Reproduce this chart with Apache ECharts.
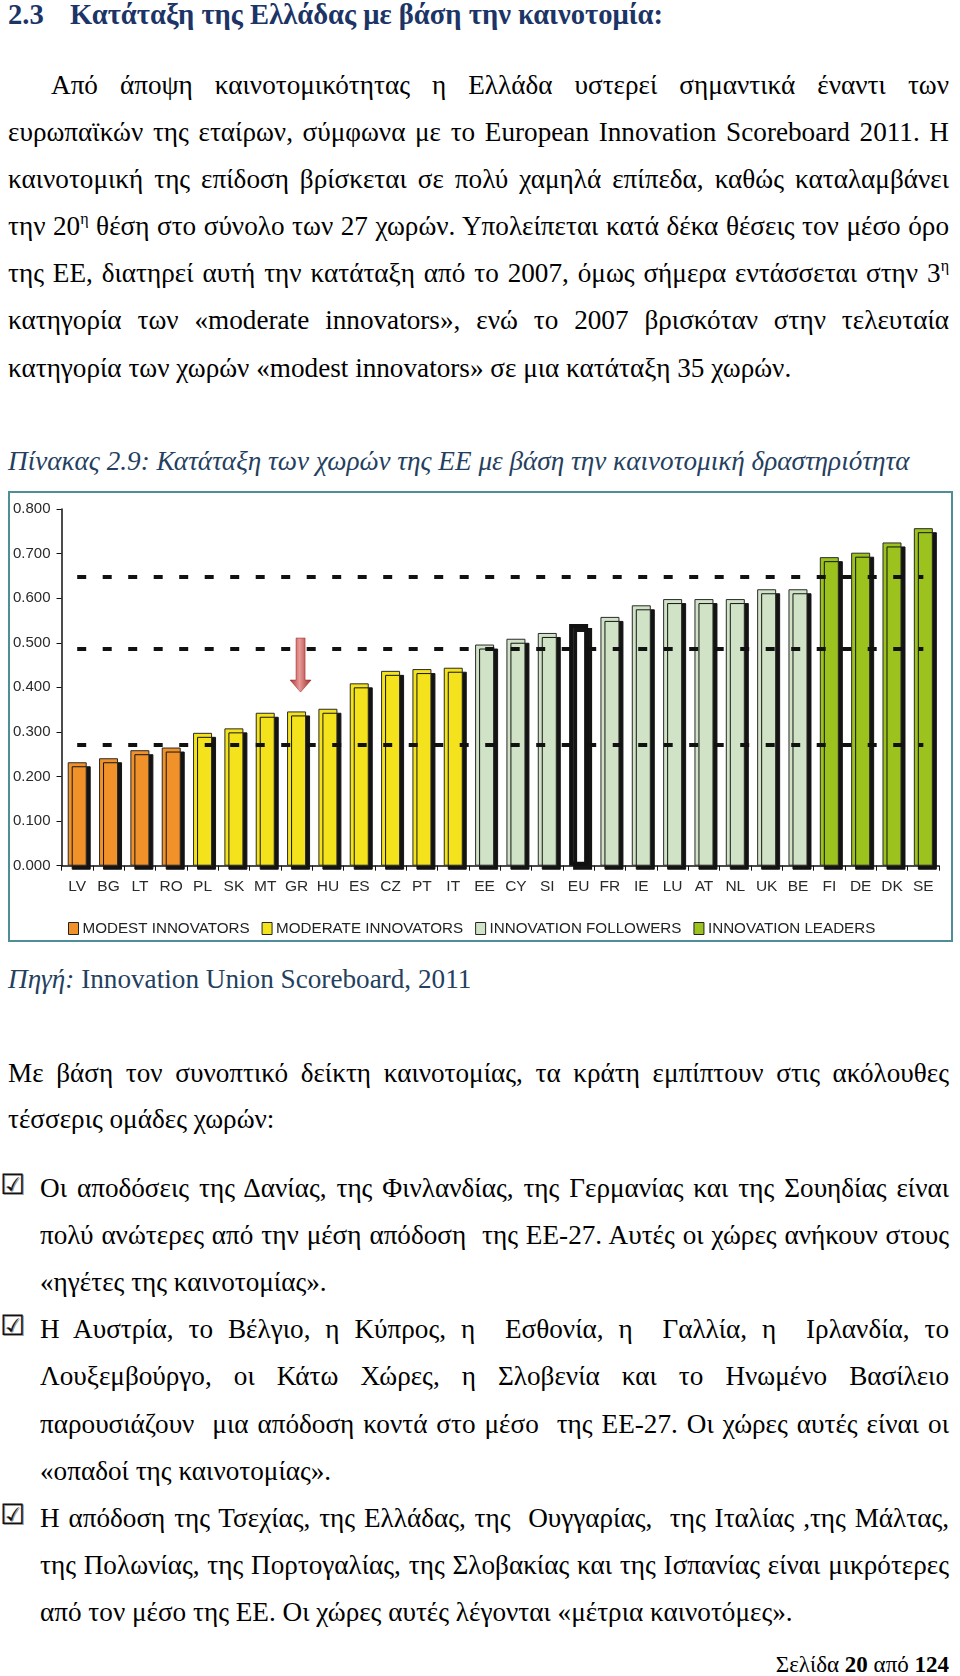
<!DOCTYPE html>
<html>
<head>
<meta charset="utf-8">
<script src="https://cdn.jsdelivr.net/npm/echarts@6/dist/echarts.min.js"></script>
<style>
  html, body { margin:0; padding:0; background:#fff; }
  body { width:960px; height:1676px; position:relative; overflow:hidden; }
  .ln { position:absolute; left:8px; width:941px; height:30px; line-height:30px;
        font-family:'Liberation Serif','Times New Roman',serif; font-size:27.2px; color:#000; white-space:nowrap; }
  .ind { left:40px; width:909px; }
  .head { font-weight:bold; color:#1c3566; font-size:28.6px; }
  .cap { font-style:italic; color:#243f60; }
  .src { color:#243f60; }
  .box { position:absolute; left:0; width:28px; height:30px; line-height:30px; font-family:'DejaVu Sans'; font-size:28px; color:#111; text-shadow:1px 1px 0 #999; }
  sup { font-size:16px; line-height:0; vertical-align:11px; }
  #chart { position:absolute; left:8px; top:491px; width:941px; height:447px; border:2px solid #4f8e99; }
</style>
</head>
<body>
<div class="ln head" style="top:0px;">2.3</div>
<div class="ln head" style="top:0px;left:70px;width:879px;">Κατάταξη της Ελλάδας με βάση την καινοτομία:</div>

<div class="ln j" style="top:70px;left:51px;width:898px;">Από άποψη καινοτομικότητας η Ελλάδα υστερεί σημαντικά έναντι των</div>
<div class="ln j" style="top:117px;">ευρωπαϊκών της εταίρων, σύμφωνα με το European Innovation Scoreboard 2011. Η</div>
<div class="ln j" style="top:164px;">καινοτομική της επίδοση βρίσκεται σε πολύ χαμηλά επίπεδα, καθώς καταλαμβάνει</div>
<div class="ln j" style="top:211px;">την 20<sup>η</sup> θέση στο σύνολο των 27 χωρών. Υπολείπεται κατά δέκα θέσεις τον μέσο όρο</div>
<div class="ln j" style="top:258px;">της ΕΕ, διατηρεί αυτή την κατάταξη από το 2007, όμως σήμερα εντάσσεται στην 3<sup>η</sup></div>
<div class="ln j" style="top:305px;">κατηγορία των «moderate innovators», ενώ το 2007 βρισκόταν στην τελευταία</div>
<div class="ln" style="top:353px;">κατηγορία των χωρών «modest innovators» σε μια κατάταξη 35 χωρών.</div>

<div class="ln cap" style="top:446px;">Πίνακας 2.9: Κατάταξη των χωρών της ΕΕ με βάση την καινοτομική δραστηριότητα</div>

<div id="chart"></div>

<div class="ln src" style="top:964px;"><i>Πηγή:</i> Innovation Union Scoreboard, 2011</div>

<div class="ln j" style="top:1058px;">Με βάση τον συνοπτικό δείκτη καινοτομίας, τα κράτη εμπίπτουν στις ακόλουθες</div>
<div class="ln" style="top:1104px;">τέσσερις ομάδες χωρών:</div>

<div class="box" style="top:1170px;">☑</div>
<div class="ln ind j" style="top:1173px;">Οι αποδόσεις της Δανίας, της Φινλανδίας, της Γερμανίας και της Σουηδίας είναι</div>
<div class="ln ind j" style="top:1220px;">πολύ ανώτερες από την μέση απόδοση&nbsp; της ΕΕ-27. Αυτές οι χώρες ανήκουν στους</div>
<div class="ln ind" style="top:1267px;">«ηγέτες της καινοτομίας».</div>

<div class="box" style="top:1311px;">☑</div>
<div class="ln ind j" style="top:1314px;">Η Αυστρία, το Βέλγιο, η Κύπρος, η&nbsp; Εσθονία, η&nbsp; Γαλλία, η&nbsp; Ιρλανδία, το</div>
<div class="ln ind j" style="top:1361px;">Λουξεμβούργο, οι Κάτω Χώρες, η Σλοβενία και το Ηνωμένο Βασίλειο</div>
<div class="ln ind j" style="top:1409px;">παρουσιάζουν&nbsp; μια απόδοση κοντά στο μέσο&nbsp; της ΕΕ-27. Οι χώρες αυτές είναι οι</div>
<div class="ln ind" style="top:1456px;">«οπαδοί της καινοτομίας».</div>

<div class="box" style="top:1500px;">☑</div>
<div class="ln ind j" style="top:1503px;">Η απόδοση της Τσεχίας, της Ελλάδας, της&nbsp; Ουγγαρίας,&nbsp; της Ιταλίας ,της Μάλτας,</div>
<div class="ln ind j" style="top:1550px;">της Πολωνίας, της Πορτογαλίας, της Σλοβακίας και της Ισπανίας είναι μικρότερες</div>
<div class="ln ind" style="top:1597px;">από τον μέσο της ΕΕ. Οι χώρες αυτές λέγονται «μέτρια καινοτόμες».</div>

<div class="ln" style="top:1650px;text-align:right;font-size:23px;">Σελίδα <b>20</b> από <b>124</b></div>

<script>
// justify single lines by distributing extra space over the word gaps
document.querySelectorAll('.j').forEach(el => {
  const span = document.createElement('span');
  while (el.firstChild) span.appendChild(el.firstChild);
  el.appendChild(span);
  const natural = span.getBoundingClientRect().width;
  const target = el.clientWidth;
  const gaps = (el.textContent.match(/[ \u00a0]/g) || []).length;
  if (gaps > 0) el.style.wordSpacing = ((target - natural) / gaps) + 'px';
});
</script>

<script>
// ---- data ----
const categories = ['LV','BG','LT','RO','PL','SK','MT','GR','HU','ES','CZ','PT','IT','EE','CY','SI','EU','FR','IE','LU','AT','NL','UK','BE','FI','DE','DK','SE'];
const scores = [0.232,0.241,0.259,0.265,0.298,0.308,0.343,0.346,0.352,0.409,0.437,0.441,0.444,0.496,0.509,0.522,0.542,0.558,0.584,0.598,0.598,0.598,0.620,0.620,0.692,0.702,0.725,0.757];
// group index per category: 0 modest, 1 moderate, 2 followers, 3 leaders, -1 EU average
const groupOf = [0,0,0,0,1,1,1,1,1,1,1,1,1,2,2,2,-1,2,2,2,2,2,2,2,3,3,3,3];
const groupNames = ['MODEST INNOVATORS','MODERATE INNOVATORS','INNOVATION FOLLOWERS','INNOVATION LEADERS'];
const groupColors = ['#f0912a','#f4e31c','#d0e3c6','#9bc21d'];
const thresholds = [0.272, 0.487, 0.647];
const highlighted = 'GR';
const euName = 'EU';

const shadow = { shadowColor:'#141414', shadowBlur:0, shadowOffsetX:4, shadowOffsetY:4 };

const series = groupNames.map((name, g) => ({
  name: name,
  type: 'bar',
  barWidth: 19,
  barGap: '-100%',
  clip: true,
  data: scores.map((v, i) => groupOf[i] === g ? v : '-'),
  itemStyle: Object.assign({ color: groupColors[g], borderColor:'#2a2a2a', borderWidth:1 }, shadow)
}));
series.push({
  name: euName,
  type: 'bar',
  barWidth: 19,
  barGap: '-100%',
  clip: true,
  data: scores.map((v, i) => groupOf[i] === -1 ? v : '-'),
  itemStyle: Object.assign({ color:'#ffffff', borderColor:'#111', borderWidth:4 }, shadow)
});
series[0].markLine = {
  silent: true,
  symbol: 'none',
  z: 5,
  label: { show: false },
  lineStyle: { color:'#111', width:4, type:[9,16.5], cap:'butt' },
  data: thresholds.map(t => [{ coord:[categories[0], t] }, { coord:[categories[categories.length-1], t] }])
};
series[1].markPoint = {
  silent: true,
  z: 6,
  symbol: 'path://M6,0 L15,0 L15,42 L21,42 L10.5,54 L0,42 L6,42 Z',
  symbolSize: [21, 54],
  symbolOffset: [4, 0],
  label: { show: false },
  itemStyle: {
    color: { type:'linear', x:0, y:0, x2:1, y2:0, colorStops:[
      { offset:0, color:'#a8312e' }, { offset:0.45, color:'#e89a98' }, { offset:1, color:'#9e2b28' } ] },
    borderColor:'#9a2a27', borderWidth:0.5, shadowBlur:0, shadowColor:'rgba(0,0,0,0)'
  },
  data: [{ coord:[highlighted, 0.45] }]
};

const chart = echarts.init(document.getElementById('chart'), null, { renderer:'canvas' });
chart.setOption({
  animation: false,
  backgroundColor: '#fff',
  grid: { left:51, right:12, top:16, bottom:74.3 },
  legend: {
    data: groupNames,
    left: 53, top: 423,
    icon: 'rect', itemWidth: 10, itemHeight: 12, itemGap: 12,
    textStyle: { fontFamily:'Liberation Sans', fontSize:15.2, color:'#222', padding:[0,0,0,-1] },
    itemStyle: { borderColor:'#222', borderWidth:1, shadowBlur:0, shadowOffsetX:0, shadowOffsetY:0, shadowColor:'rgba(0,0,0,0)' },
    selectedMode: false
  },
  xAxis: {
    type: 'category',
    data: categories,
    axisLine: { lineStyle: { color:'#111', width:1.5 } },
    axisTick: { show:true, length:5, lineStyle:{ color:'#111' } },
    axisLabel: { interval:0, fontFamily:'Liberation Sans', fontSize:15.5, color:'#2a2a2a', margin:13 }
  },
  yAxis: {
    type: 'value',
    min: 0, max: 0.8, interval: 0.1,
    axisLine: { show:true, lineStyle: { color:'#111', width:1.5 } },
    axisTick: { show:true, length:5, lineStyle:{ color:'#111' } },
    splitLine: { show:false },
    axisLabel: { fontFamily:'Liberation Sans', fontSize:15, color:'#2a2a2a', margin:11, formatter: v => v.toFixed(3) }
  },
  series: series
});
</script>
</body>
</html>
